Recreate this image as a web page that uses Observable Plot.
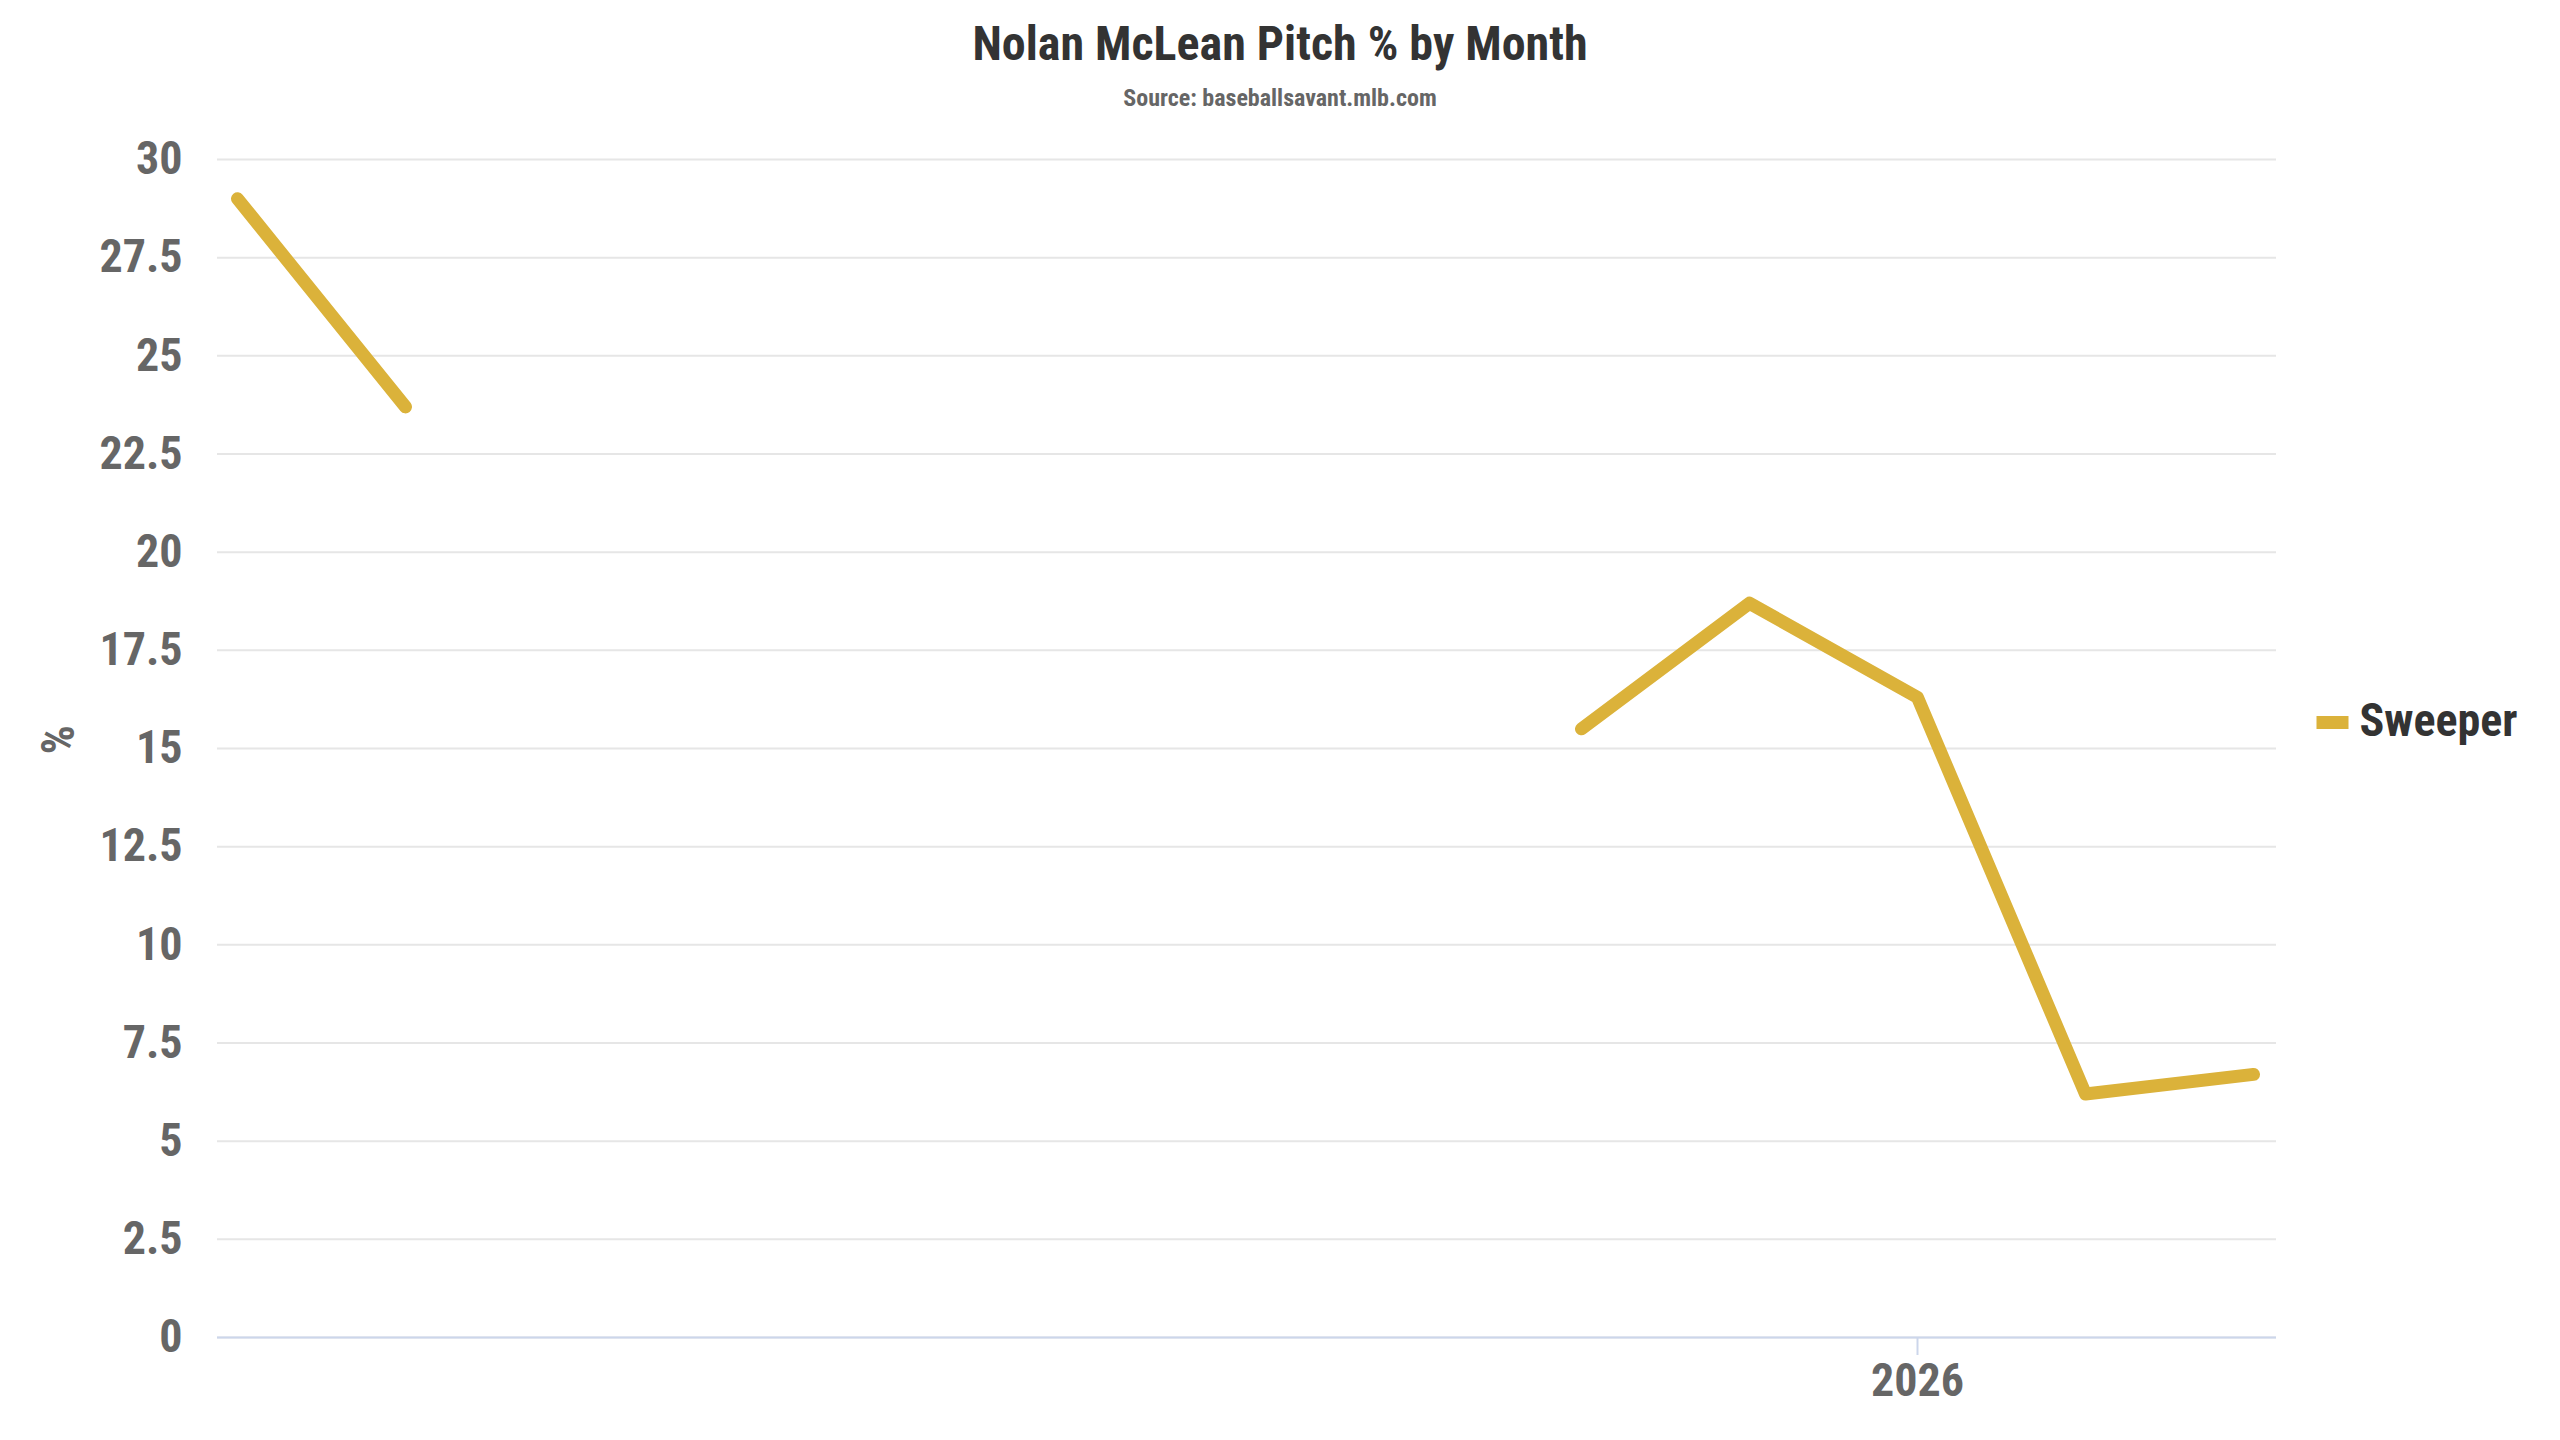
<!DOCTYPE html>
<html><head><meta charset="utf-8">
<script src="https://cdn.jsdelivr.net/npm/d3@7"></script>
<script src="https://cdn.jsdelivr.net/npm/@observablehq/plot@0.6"></script>
<style>
html,body{margin:0;padding:0;background:#fff;}
body{width:2560px;height:1440px;position:relative;overflow:hidden;font-family:'Roboto Condensed',Roboto,sans-serif;font-stretch:condensed;}
#title{position:absolute;left:0;width:2560px;top:19.5px;text-align:center;font-size:48px;line-height:48px;font-weight:700;color:#333;}
#subtitle{position:absolute;left:0;width:2560px;top:85.5px;text-align:center;font-size:24px;line-height:24px;font-weight:700;color:#666;}
#chart{position:absolute;left:0;top:120px;}
</style></head>
<body>
<div id="title"></div><div id="subtitle"></div><div id="chart"></div>
<script>
const titleText = "Nolan McLean Pitch % by Month";
const subtitleText = "Source: baseballsavant.mlb.com";
const seriesName = "Sweeper";
const months = ["2025-03","2025-04","2025-05","2025-06","2025-07","2025-08","2025-09","2025-10","2025-11","2025-12","2026-01","2026-02","2026-03"];
const sweeper = [29.0, 23.7, null, null, null, null, null, null, 15.5, 18.7, 16.3, 6.2, 6.7];
const yTicks = [0, 2.5, 5, 7.5, 10, 12.5, 15, 17.5, 20, 22.5, 25, 27.5, 30];
const xTicks = ["2026-01"];
const lineColor = "#dbb23a";

document.getElementById("title").textContent = titleText;
document.getElementById("subtitle").textContent = subtitleText;

const data = months.map((m, i) => ({month: m, value: sweeper[i], series: seriesName}));
const swatch = {draw(context) { context.rect(-16, -6.5, 32, 13); }};
const font = "'Roboto Condensed', Roboto, sans-serif";

const chart = Plot.plot({
  width: 2560, height: 1320,
  marginTop: 39, marginBottom: 103, marginLeft: 217, marginRight: 284,
  style: {fontFamily: font, fontStretch: "condensed", background: "#fff", overflow: "visible"},
  x: {type: "point", domain: months, padding: 0.1, insetRight: 4},
  y: {domain: [0, 30]},
  marks: [
    Plot.gridY(yTicks, {stroke: "#e6e6e6", strokeOpacity: 1, strokeWidth: 2}),
    Plot.ruleY([0], {stroke: "#ccd6eb", strokeWidth: 2}),
    Plot.axisY(yTicks, {tickSize: 0, tickPadding: 35, fontSize: 46, fontWeight: "bold", fill: "#666", label: null, tickFormat: d => String(d)}),
    Plot.axisX(xTicks, {tickSize: 18, tickPadding: 8, stroke: "#ccd6eb", strokeWidth: 2, fontSize: 46, fontWeight: "bold", fill: "#666", label: null, tickFormat: d => d.slice(0, 4)}),
    Plot.line(data, {x: "month", y: "value", stroke: lineColor, strokeWidth: 13, strokeLinecap: "round", strokeLinejoin: "round"}),
    Plot.text(["%"], {frameAnchor: "left", dx: -158, dy: 6, rotate: -90, fontSize: 46, fontWeight: "bold", fill: "#666"}),
    Plot.dot([seriesName], {frameAnchor: "right", dx: 56, dy: -26, symbol: swatch, r: 5, fill: lineColor, stroke: null}),
    Plot.text([seriesName], {frameAnchor: "right", dx: 83, dy: -27.4, textAnchor: "start", fontSize: 46, fontWeight: "bold", fill: "#333"})
  ]
});
document.getElementById("chart").appendChild(chart);
</script>
</body></html>
